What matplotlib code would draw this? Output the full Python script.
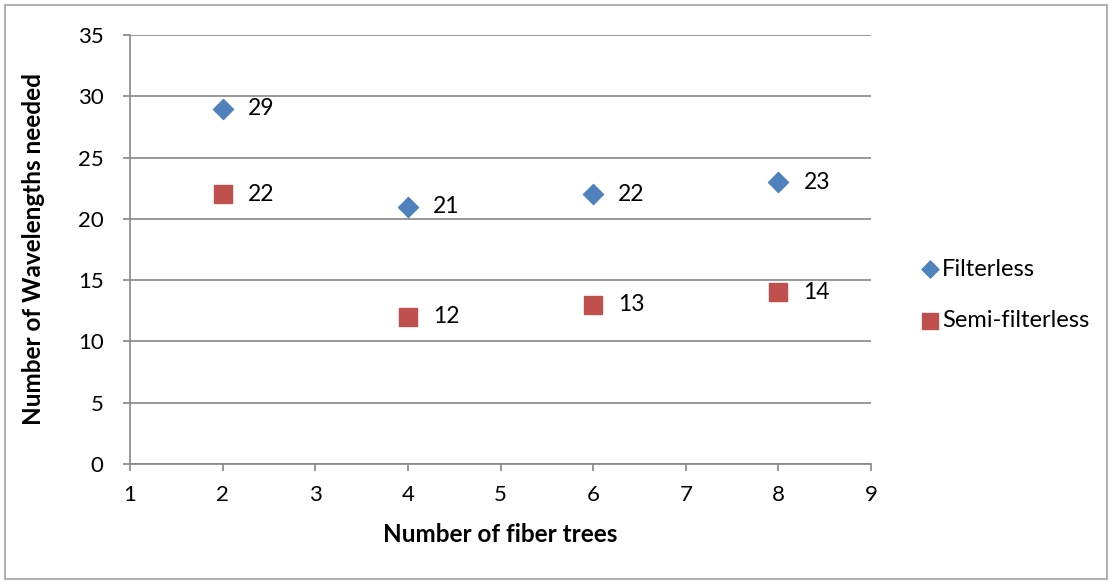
import matplotlib
matplotlib.use("Agg")
import matplotlib.pyplot as plt
import matplotlib.patches as patches

# fiber tree counts and wavelengths needed per architecture
trees = [2, 4, 6, 8]
filterless = [29, 21, 22, 23]
semi_filterless = [22, 12, 13, 14]

blue = "#4F81BD"
red = "#C0504D"
axis_gray = "#868686"

plt.rcParams['font.family'] = ['Lato', 'DejaVu Sans']

fig = plt.figure(figsize=(11.12, 5.84), dpi=100)
ax = fig.add_axes((0.1169, 0.2055, 0.6664, 0.7346))

# outer chart frame
fig.patches.append(patches.Rectangle((0.0045, 0.0085), 0.991, 0.983, transform=fig.transFigure,
                                     fill=False, edgecolor="#A0A0A0", linewidth=1.2))

ax.scatter(trees, filterless, marker="D", s=10.2 ** 2, color=blue, zorder=3, label="Filterless")
ax.scatter(trees, semi_filterless, marker="s", s=13.5 ** 2, color=red, zorder=3, label="Semi-filterless")

for x, y in zip(trees, filterless):
    ax.annotate(str(y), (x, y), xytext=(18, 0), textcoords="offset points",
                va="center", ha="left", fontsize=16.5)
for x, y in zip(trees, semi_filterless):
    ax.annotate(str(y), (x, y), xytext=(18, 0), textcoords="offset points",
                va="center", ha="left", fontsize=16.5)

ax.set_xlim(1, 9)
ax.set_ylim(0, 35)
ax.set_xticks(range(1, 10))
ax.set_yticks(range(0, 36, 5))
ax.yaxis.grid(True, color=axis_gray, linewidth=1.2)
ax.set_axisbelow(True)

for side in ["top", "right"]:
    ax.spines[side].set_visible(False)
for side in ["left", "bottom"]:
    ax.spines[side].set_color(axis_gray)
    ax.spines[side].set_linewidth(1.2)
ax.tick_params(axis="both", direction="out", length=5, width=1.2, color=axis_gray,
               labelsize=16)
ax.tick_params(axis="x", pad=10)
ax.tick_params(axis="y", pad=14)

ax.set_xlabel("Number of fiber trees", fontsize=17.5, fontweight="bold", labelpad=13)
ax.set_ylabel("Number of Wavelengths needed", fontsize=17.5, fontweight="bold", labelpad=24)

ax.legend(loc="center left", bbox_to_anchor=(1.035, 0.394), frameon=False, fontsize=17,
          handletextpad=0.0, labelspacing=1.3, scatterpoints=1, markerscale=0.85,
          handlelength=1.0)

fig.savefig("out.png", dpi=100)
